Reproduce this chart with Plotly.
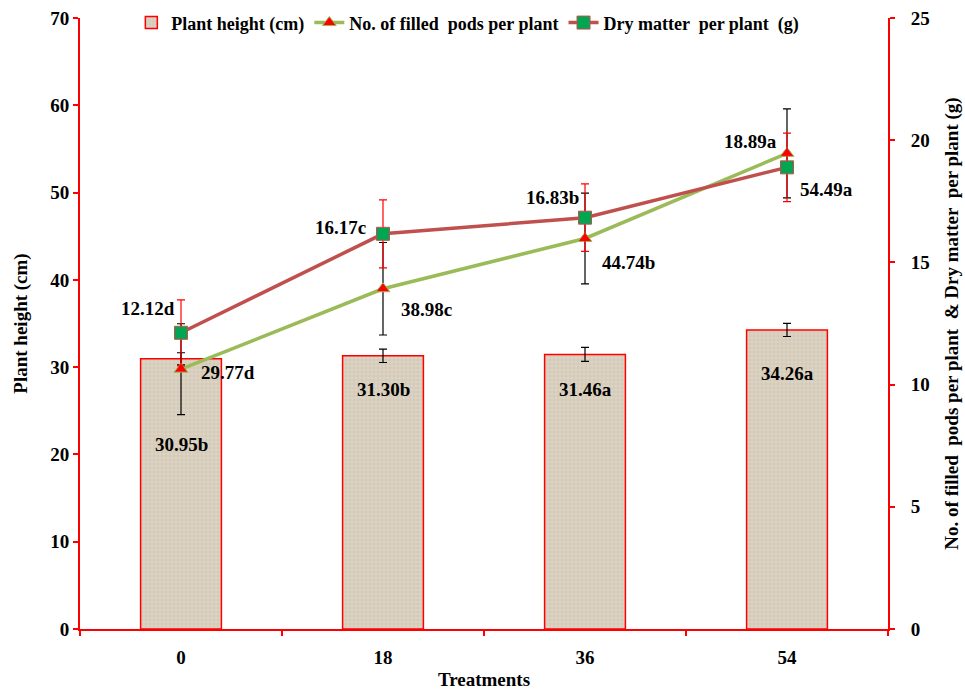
import plotly.graph_objects as go

treatments = ["0", "18", "36", "54"]
plant_height = [30.95, 31.30, 31.46, 34.26]
plant_height_err = [0.7, 0.77, 0.8, 0.75]
plant_height_lbl = ["30.95b", "31.30b", "31.46a", "34.26a"]
pods = [29.77, 38.98, 44.74, 54.49]
pods_err = [5.2, 5.3, 5.2, 5.1]
pods_lbl = ["29.77d", "38.98c", "44.74b", "54.49a"]
dry_matter = [12.12, 16.17, 16.83, 18.89]
dry_matter_err = [1.35, 1.39, 1.38, 1.4]
dry_matter_lbl = ["12.12d", "16.17c", "16.83b", "18.89a"]

# label offsets in pixels (layout only)
bar_lbl_shift = [(0, -86), (0, -34), (0, -35), (0, -44)]
pods_lbl_shift = [(47, -3), (43, -21), (43, -24), (39, -36)]
dm_lbl_shift = [(-33, 24), (-43, 6), (-33, 20), (-37, 26)]

FONT = "Liberation Serif"
RED = "#ff0000"

fig = go.Figure()
fig.add_trace(go.Bar(
    x=treatments, y=plant_height, name="Plant height (cm)", width=0.4,
    marker=dict(color="#d9d0be", line=dict(color=RED, width=1.5),
                pattern=dict(shape="+", fgcolor="#bdb19b", bgcolor="#ddd4c3", size=4, solidity=0.3)),
    error_y=dict(type="data", array=plant_height_err, color="black", thickness=1.2, width=4),
))
fig.add_trace(go.Scatter(
    x=treatments, y=pods, name="No. of filled  pods per plant", mode="lines+markers",
    line=dict(color="#9bbb59", width=3.5),
    marker=dict(symbol="triangle-up", size=12, color=RED, line=dict(color="#9bbb59", width=1)),
    error_y=dict(type="data", array=pods_err, color="black", thickness=1.2, width=4),
))
fig.add_trace(go.Scatter(
    x=treatments, y=dry_matter, name="Dry matter  per plant  (g)", mode="lines+markers", yaxis="y2",
    line=dict(color="#c0504d", width=3.5),
    marker=dict(symbol="square", size=13, color="#00a651", line=dict(color="#c0504d", width=1)),
    error_y=dict(type="data", array=dry_matter_err, color=RED, thickness=1.2, width=4),
))

ann_font = dict(family=FONT, size=19, color="black", weight="bold")
for i in range(len(treatments)):
    fig.add_annotation(x=i, y=plant_height[i], text=plant_height_lbl[i], showarrow=False,
                       xshift=bar_lbl_shift[i][0], yshift=bar_lbl_shift[i][1], font=ann_font)
    fig.add_annotation(x=i, y=pods[i], text=pods_lbl[i], showarrow=False,
                       xshift=pods_lbl_shift[i][0], yshift=pods_lbl_shift[i][1], font=ann_font)
    fig.add_annotation(x=i, y=dry_matter[i], yref="y2", text=dry_matter_lbl[i], showarrow=False,
                       xshift=dm_lbl_shift[i][0], yshift=dm_lbl_shift[i][1], font=ann_font)

axis_common = dict(showline=True, linecolor=RED, linewidth=2, ticks="outside", tickcolor=RED,
                   ticklen=5, tickwidth=2, showgrid=False, zeroline=False, ticklabeloverflow="allow",
                   tickfont=dict(family=FONT, size=19, color="black", weight="bold"))
title_font = dict(family=FONT, size=19, color="black", weight="bold")

fig.update_layout(
    width=965, height=693,
    margin=dict(l=80, r=77, t=18, b=64, autoexpand=False),
    paper_bgcolor="white", plot_bgcolor="white",
    font=dict(family=FONT, size=18, color="black", weight="bold"),
    showlegend=True,
    legend=dict(orientation="h", x=0.48, xanchor="center", y=0.992, yanchor="middle",
                font=dict(family=FONT, size=18, color="black", weight="bold"),
                bgcolor="rgba(255,255,255,0)", tracegroupgap=0),
    xaxis=dict(**axis_common, type="category", tickson="boundaries", range=[-0.5, 3.5],
               ticklabelstandoff=10,
               title=dict(text="Treatments", font=title_font, standoff=6)),
    yaxis=dict(**axis_common, range=[0, 70], dtick=10,
               title=dict(text="Plant height (cm)", font=title_font, standoff=18)),
    yaxis2=dict(**axis_common, range=[0, 25], dtick=5, overlaying="y", side="right",
                ticklabelstandoff=12,
                title=dict(text="No. of filled  pods per plant  & Dry matter  per plant (g)",
                           font=title_font, standoff=16)),
    bargap=0.6,
)

fig.write_html("out.html", config={"displayModeBar": False},
               post_script="document.body.style.margin='0';document.body.style.overflow='hidden';")
